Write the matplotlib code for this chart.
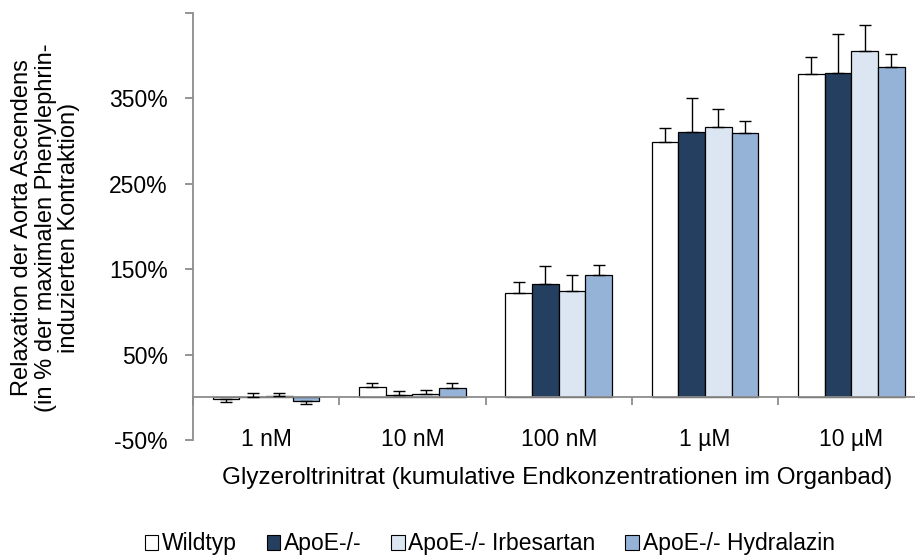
import numpy as np
import matplotlib
matplotlib.use("Agg")
import matplotlib.pyplot as plt
from matplotlib.patches import Patch

plt.rcParams['font.family'] = ['Liberation Sans', 'DejaVu Sans']

# Data (% relaxation, mean and SD)
categories = ["1 nM", "10 nM", "100 nM", "1 \u00b5M", "10 \u00b5M"]
groups = ["Wildtyp", "ApoE-/-", "ApoE-/- Irbesartan", "ApoE-/- Hydralazin"]
wildtyp = [-2, 12, 122, 299, 378]
apoe = [0.5, 2.5, 133, 311, 380]
irbesartan = [2, 4, 125, 316, 405]
hydralazin = [-4, 11, 143, 310, 387]
wildtyp_err = [4, 5, 13, 16, 20]
apoe_err = [4, 5, 21, 39, 45]
irbesartan_err = [3, 5, 18, 22, 31]
hydralazin_err = [4, 6, 12, 13, 15]

series = [wildtyp, apoe, irbesartan, hydralazin]
errors = [wildtyp_err, apoe_err, irbesartan_err, hydralazin_err]
colors = ["#FFFFFF", "#243F60", "#DCE6F2", "#95B3D7"]

fs = 16.5
fig = plt.figure(figsize=(9.15, 5.55), dpi=100)
# the category axis runs a little past the right edge, as in the original
ax = fig.add_axes([0.2109, 0.2072, 0.7995, 0.7694])

x = np.arange(len(categories))
width = 0.182
for i, (vals, err, col) in enumerate(zip(series, errors, colors)):
    vals = np.array(vals, dtype=float)
    err = np.array(err, dtype=float)
    # error bar only drawn away from zero, like the original
    lower = np.where(vals < 0, err, 0)
    upper = np.where(vals >= 0, err, 0)
    pos = x + (i - 1.5) * width
    ax.bar(pos, vals, width, color=col, edgecolor="black", linewidth=0.9, zorder=2)
    ax.errorbar(pos, vals, yerr=[lower, upper], fmt="none", ecolor="black",
                elinewidth=1.0, capsize=4.5, capthick=1.0, zorder=3)

ax.set_xlim(-0.5, len(categories) - 0.5)
ax.set_ylim(-50, 450)

yt = [-50, 50, 150, 250, 350, 450]
ax.set_yticks(yt, [f"{v}%" for v in yt[:-1]] + [""])

# category axis sits on zero, ticks between groups
ax.spines['bottom'].set_position(('data', 0))
for s in ['top', 'right']:
    ax.spines[s].set_visible(False)
for s in ['left', 'bottom']:
    ax.spines[s].set_color("#8c8c8c")
    ax.spines[s].set_linewidth(1.3)
ax.set_xticks(np.arange(-0.5, len(categories)), [""] * (len(categories) + 1))
ax.set_xticks(x, categories, minor=True)
ax.tick_params(axis='x', which='major', direction='out', length=6, color="#8c8c8c", width=1.3)
ax.tick_params(axis='x', which='minor', length=0, pad=22, labelsize=fs)
ax.tick_params(axis='y', direction='out', length=6, color="#8c8c8c", width=1.3,
               labelsize=fs, pad=12)

fig.text(0.609, 0.139, "Glyzeroltrinitrat (kumulative Endkonzentrationen im Organbad)",
         ha="center", va="center", fontsize=17.5)
fig.text(0.050, 0.59, "Relaxation der Aorta Ascendens\n(in % der maximalen Phenylephrin-\ninduzierten Kontraktion)",
         ha="center", va="center", rotation=90, fontsize=17, linespacing=1.1)

handles = [Patch(facecolor=c, edgecolor="black", linewidth=0.8) for c in colors]
fig.legend(handles, groups, loc="center", bbox_to_anchor=(0.535, 0.02), ncol=4,
           frameon=False, fontsize=fs, handlelength=0.6, handleheight=0.6,
           handletextpad=0.15, columnspacing=1.3)

fig.savefig("out.png", dpi=100)
